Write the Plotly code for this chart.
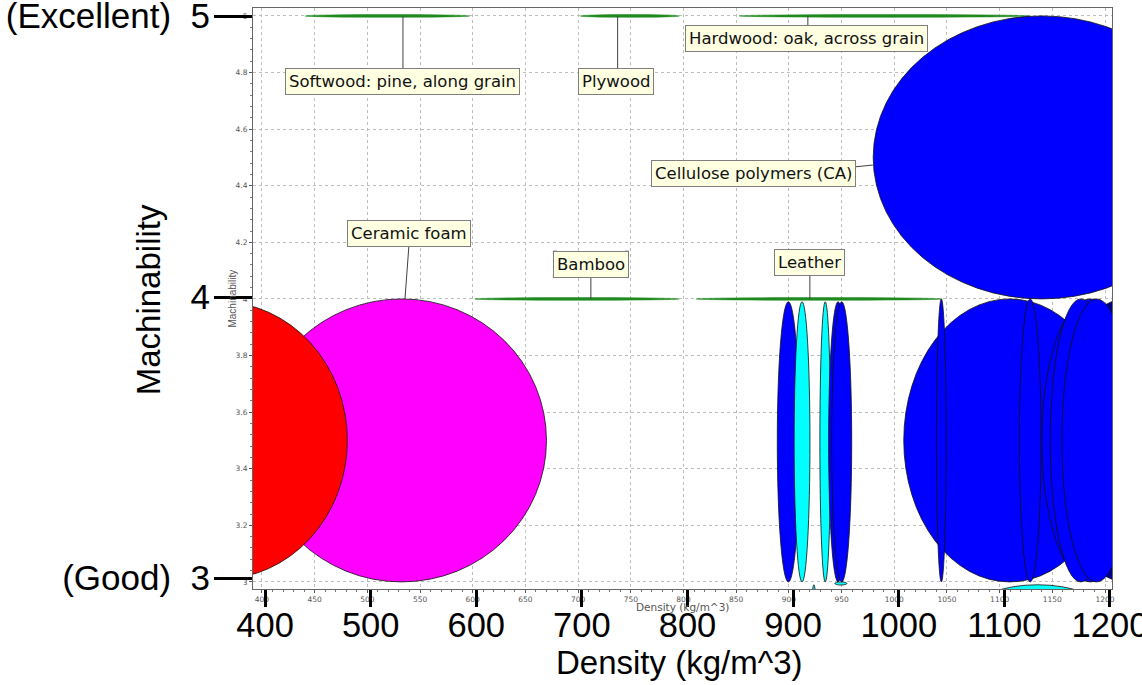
import plotly.graph_objects as go

# ---------------- data (ranges) ----------------
material = ["Softwood: pine, along grain", "Plywood", "Hardwood: oak, across grain",
            "Bamboo", "Leather", "Ceramic foam", "", "Cellulose polymers (CA)",
            "", "", "", "", "", "", "", "", "", "", "", "", "", "", ""]
family = ["Natural", "Natural", "Natural", "Natural", "Natural", "Foams", "Other",
          "Polymers", "Composites", "Polymers", "Polymers", "Elastomers", "Elastomers",
          "Polymers", "Polymers", "Elastomers", "Elastomers", "Polymers", "Polymers",
          "Polymers", "Polymers", "Polymers", "Elastomers"]
density_lo = [441, 702, 853, 602, 812, 395, 239, 980, 1150, 1009, 889, 905, 929.4,
              937.7, 940.6, 943.6, 921.7, 1040, 1118.7, 1140, 1148, 1159, 1076]
density_hi = [597, 796, 1129, 796, 1045, 670, 481, 1300, 1290, 1210, 910, 920, 939.6,
              955.7, 959.6, 955, 925.7, 1049.3, 1139.3, 1232, 1206, 1225, 1196]
mach_lo = [4.995, 4.995, 4.995, 3.995, 3.995, 3.0, 3.01, 4.0, 3.0, 3.0, 3.0, 3.0, 3.0,
           3.0, 3.0, 2.989, 2.81, 3.0, 3.0, 3.0, 3.0, 3.0, 2.81]
mach_hi = [5.005, 5.005, 5.005, 4.005, 4.005, 4.0, 3.99, 5.0, 4.0, 4.0, 3.99, 3.99, 3.99,
           3.99, 3.99, 3.0, 2.99, 4.0, 4.0, 4.0, 4.0, 4.0, 2.99]

# label boxes (data coords) and leader lines
label_text = ["Softwood: pine, along grain", "Plywood", "Hardwood: oak, across grain",
              "Cellulose polymers (CA)", "Ceramic foam", "Bamboo", "Leather"]
label_x = [533.8, 735.9, 917.1, 866.8, 539.5, 712.1, 919.9]
label_y = [4.767, 4.767, 4.919, 4.442, 4.23, 4.12, 4.127]
leader_x0 = [533.8, 737.5, 918.0, 960.7, 539.5, 712.1, 919.9]
leader_x1 = [533.8, 737.5, 918.0, 979.7, 535.7, 712.1, 919.9]
leader_y0 = [4.809, 4.809, 4.958, 4.466, 4.191, 4.081, 4.088]
leader_y1 = [5.0, 5.0, 5.0, 4.473, 4.0, 4.0, 4.0]

handle_x = [678, 746.3, 678, 746.3]
handle_y = [4.163, 4.163, 4.081, 4.081]

big_x_ticks = [400, 500, 600, 700, 800, 900, 1000, 1100, 1200]
big_y_ticks = [3, 4, 5]
big_y_text = ["(Good)\u00a0\u00a03", "4", "(Excellent)\u00a0\u00a05"]

family_color = {"Natural": "#1f8a1f", "Foams": "#ff00ff", "Other": "#ff0000",
                "Polymers": "#0000ff", "Composites": "#00008b", "Elastomers": "#00ffff"}

fig = go.Figure()

shapes = []
for lo, hi, ylo, yhi, fam in zip(density_lo, density_hi, mach_lo, mach_hi, family):
    col = family_color[fam]
    if fam == "Natural":
        line = dict(color=col, width=0.5)
    else:
        line = dict(color="#101010", width=0.8)
    shapes.append(dict(type="circle", xref="x", yref="y", x0=lo, x1=hi, y0=ylo, y1=yhi,
                       fillcolor=col, line=line, layer="above"))
for x0, x1, y0, y1 in zip(leader_x0, leader_x1, leader_y0, leader_y1):
    shapes.append(dict(type="line", xref="x", yref="y", x0=x0, x1=x1, y0=y0, y1=y1,
                       line=dict(color="#404040", width=1)))

annotations = []
for t, x, y in zip(label_text, label_x, label_y):
    annotations.append(dict(x=x, y=y, xref="x", yref="y", text=t, showarrow=False,
                            xanchor="center", yanchor="middle",
                            bgcolor="#ffffe1", bordercolor="#7f7f7f", borderwidth=1,
                            borderpad=3, font=dict(family="DejaVu Sans", size=16.5, color="#111")))

annotations += [
    dict(text="Machinability", xref="paper", yref="paper", x=-0.1222, y=0.497,
         xanchor="center", yanchor="middle",
         textangle=-90, showarrow=False, font=dict(family="Liberation Sans, Arial", size=33, color="black")),
    dict(text="Density (kg/m^3)", xref="paper", yref="paper", x=0.497, y=-0.127,
         xanchor="center", yanchor="middle",
         showarrow=False, font=dict(family="Liberation Sans, Arial", size=33, color="black")),
    dict(text="Machinability", xref="paper", yref="paper", x=-0.0244, y=0.5,
         xanchor="center", yanchor="middle",
         textangle=-90, showarrow=False, font=dict(family="Liberation Sans, Arial", size=10, color="#555")),
    dict(text="Density (kg/m^3)", xref="paper", yref="paper", x=0.5, y=-0.031,
         xanchor="center", yanchor="middle",
         showarrow=False, font=dict(family="DejaVu Sans", size=10.5, color="#555")),
]

fig.add_trace(go.Scatter(x=handle_x, y=handle_y, mode="markers", cliponaxis=False,
                         marker=dict(symbol="square", size=4, color="black"),
                         hoverinfo="skip", showlegend=False))
fig.add_trace(go.Scatter(x=[None], y=[None], xaxis="x2", yaxis="y2", showlegend=False,
                         hoverinfo="skip"))

small_font = dict(family="DejaVu Sans", size=7.5, color="#555")
big_xfont = dict(family="Liberation Sans, Arial", size=34.5, color="black")
big_yfont = dict(family="Liberation Sans, Arial", size=35, color="black")
fig.update_layout(
    width=1142, height=685,
    margin=dict(l=253, r=30, t=8, b=96, autoexpand=False),
    plot_bgcolor="white", paper_bgcolor="white", showlegend=False,
    shapes=shapes, annotations=annotations,
    xaxis=dict(range=[391.5, 1206.6], tick0=400, dtick=50, showgrid=True, automargin=False,
               gridcolor="#bdbdbd", griddash="dot", gridwidth=1, zeroline=False,
               ticks="outside", ticklen=3, tickcolor="#555", tickfont=small_font,
               showline=True, linecolor="#666", linewidth=1, mirror=True,
               minor=dict(dtick=10, ticks="outside", ticklen=2, tickcolor="#777", showgrid=False)),
    yaxis=dict(range=[2.975, 5.028], tick0=3, dtick=0.2, showgrid=True, automargin=False,
               gridcolor="#bdbdbd", griddash="dot", gridwidth=1, zeroline=False,
               ticks="outside", ticklen=3, tickcolor="#555", tickfont=small_font,
               showline=True, linecolor="#666", linewidth=1, mirror=True,
               minor=dict(dtick=0.04, ticks="outside", ticklen=2, tickcolor="#777", showgrid=False)),
    xaxis2=dict(overlaying="x", anchor="y2", side="bottom", range=[388.6, 1201.9],
                tickvals=big_x_ticks, ticks="outside", ticklen=17, tickwidth=3,
                tickcolor="black", showgrid=False, showline=False, zeroline=False,
                ticklabelstandoff=-11,
                automargin=False, ticklabeloverflow="allow", tickfont=big_xfont),
    yaxis2=dict(overlaying="y", anchor="x2", side="left", range=[2.961, 5.0285],
                tickvals=big_y_ticks, ticktext=big_y_text, ticks="outside", ticklen=38,
                tickwidth=3, tickcolor="black", showgrid=False, showline=False, zeroline=False,
                ticklabelstandoff=-3,
                automargin=False, ticklabeloverflow="allow", tickfont=big_yfont),
)

fig.write_html("out.html", config={"displayModeBar": False},
               post_script="document.body.style.margin='0';")
